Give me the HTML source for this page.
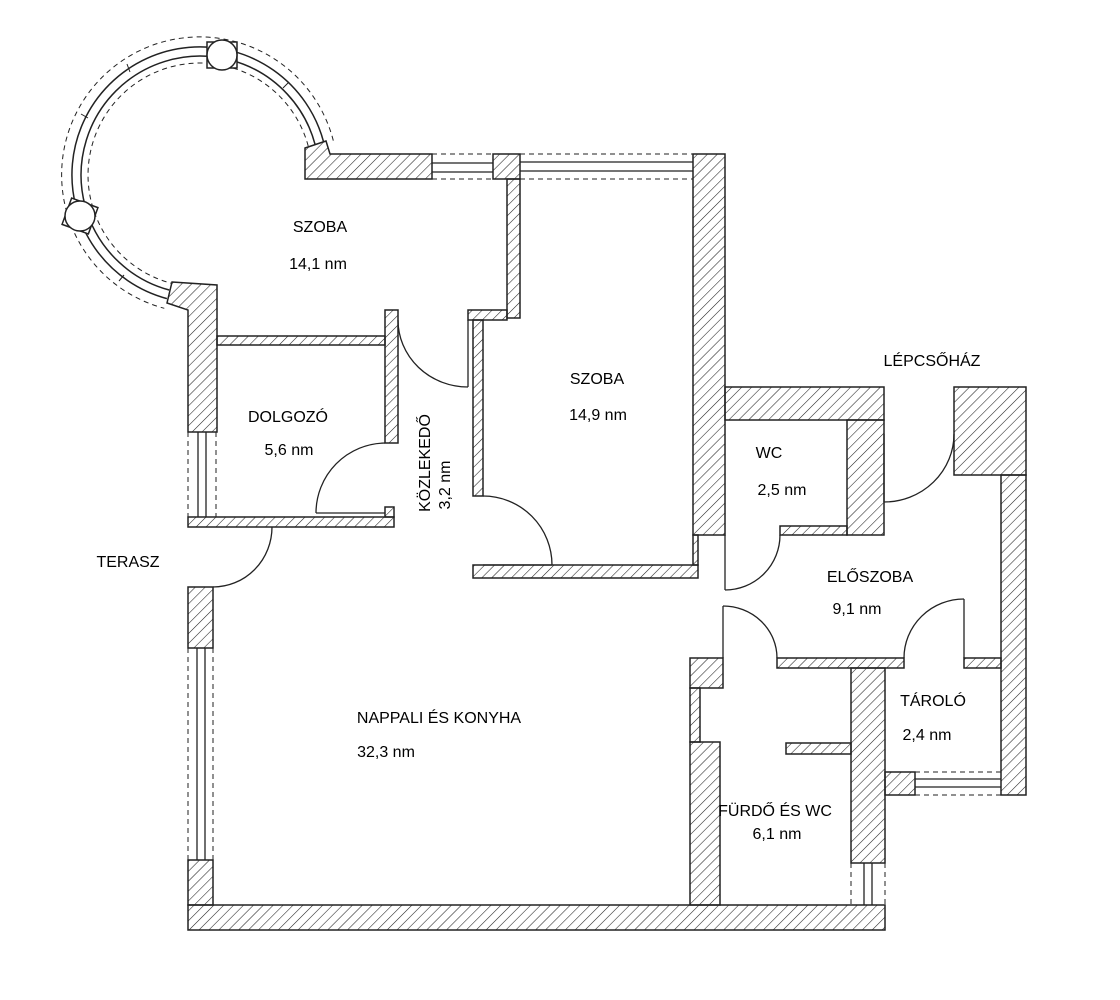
<!DOCTYPE html>
<html><head><meta charset="utf-8"><style>
html,body{margin:0;padding:0;background:#fff;}
svg{display:block;}
text{font-family:"Liberation Sans",sans-serif;font-size:16px;fill:#000;}
</style></head><body>
<svg width="1120" height="1000" viewBox="0 0 1120 1000" xmlns="http://www.w3.org/2000/svg">
<defs>
<pattern id="h" patternUnits="userSpaceOnUse" width="7" height="7" patternTransform="rotate(45)">
<line x1="0" y1="0" x2="0" y2="7" stroke="#222" stroke-width="1.1"/>
</pattern>
</defs>
<rect width="1120" height="1000" fill="#fff"/>

<!-- circular bay -->
<g fill="none" stroke="#222">
<path d="M 333.3 140.6 A 138 138 0 1 0 164.3 308.3" stroke-dasharray="5,4" stroke-width="1"/>
<path d="M 323.6 141.9 A 128 128 0 1 0 166.9 298.6" stroke-width="1.5"/>
<path d="M 315 144.2 A 119 119 0 1 0 169.2 290" stroke-width="1.5"/>
<path d="M 308.2 146 A 112 112 0 1 0 171 283.2" stroke-dasharray="5,4" stroke-width="1"/>
<line x1="130" y1="72" x2="127" y2="64" stroke-width="1"/>
<line x1="88" y1="118" x2="81" y2="114" stroke-width="1"/>
<line x1="283" y1="88" x2="289" y2="82" stroke-width="1"/>
<line x1="124" y1="275" x2="119" y2="281" stroke-width="1"/>
</g>
<g fill="#fff" stroke="#222" stroke-width="1.5">
<rect x="207" y="42" width="30" height="26"/>
<circle cx="222" cy="55" r="15"/>
<rect x="66" y="202" width="28" height="28" transform="rotate(20 80 216)"/>
<circle cx="80" cy="216" r="15"/>
</g>

<!-- windows -->
<g stroke="#222" fill="none">
<line x1="432" y1="163" x2="493" y2="163" stroke-width="1.3"/>
<line x1="432" y1="172" x2="493" y2="172" stroke-width="1.3"/>
<line x1="432" y1="154" x2="493" y2="154" stroke-dasharray="5,4"/>
<line x1="432" y1="179" x2="493" y2="179" stroke-dasharray="5,4"/>
<line x1="520" y1="162" x2="693" y2="162" stroke-width="1.3"/>
<line x1="520" y1="171" x2="693" y2="171" stroke-width="1.3"/>
<line x1="520" y1="154" x2="693" y2="154" stroke-dasharray="5,4"/>
<line x1="520" y1="179" x2="693" y2="179" stroke-dasharray="5,4"/>
<line x1="198" y1="432" x2="198" y2="517" stroke-width="1.3"/>
<line x1="206" y1="432" x2="206" y2="517" stroke-width="1.3"/>
<line x1="188" y1="432" x2="188" y2="517" stroke-dasharray="5,4"/>
<line x1="216" y1="432" x2="216" y2="517" stroke-dasharray="5,4"/>
<line x1="197" y1="648" x2="197" y2="860" stroke-width="1.3"/>
<line x1="205" y1="648" x2="205" y2="860" stroke-width="1.3"/>
<line x1="188" y1="648" x2="188" y2="860" stroke-dasharray="5,4"/>
<line x1="213" y1="648" x2="213" y2="860" stroke-dasharray="5,4"/>
<line x1="915" y1="779" x2="1001" y2="779" stroke-width="1.3"/>
<line x1="915" y1="787" x2="1001" y2="787" stroke-width="1.3"/>
<line x1="915" y1="772" x2="1001" y2="772" stroke-dasharray="5,4"/>
<line x1="915" y1="795" x2="1001" y2="795" stroke-dasharray="5,4"/>
<line x1="864" y1="863" x2="864" y2="905" stroke-width="1.3"/>
<line x1="872" y1="863" x2="872" y2="905" stroke-width="1.3"/>
<line x1="851" y1="863" x2="851" y2="905" stroke-dasharray="5,4"/>
<line x1="885" y1="863" x2="885" y2="905" stroke-dasharray="5,4"/>
</g>

<!-- walls -->
<g fill="url(#h)" stroke="#222" stroke-width="1.5">
<polygon points="305,148 326,141 330,154 432,154 432,179 305,179"/>
<rect x="493" y="154" width="27" height="25"/>
<rect x="507" y="179" width="13" height="139"/>
<rect x="468" y="310" width="39" height="10"/>
<rect x="473" y="320" width="10" height="176"/>
<polygon points="172,282 217,285 217,432 188,432 188,310 167,303"/>
<rect x="217" y="336" width="168" height="9"/>
<rect x="385" y="310" width="13" height="133"/>
<rect x="188" y="517" width="206" height="10"/>
<rect x="385" y="507" width="9" height="10"/>
<rect x="188" y="587" width="25" height="61"/>
<rect x="188" y="860" width="25" height="45"/>
<rect x="188" y="905" width="697" height="25"/>
<rect x="473" y="565" width="225" height="13"/>
<rect x="693" y="154" width="32" height="381"/>
<rect x="693" y="535" width="5" height="30"/>
<rect x="725" y="387" width="159" height="33"/>
<rect x="847" y="420" width="37" height="115"/>
<rect x="780" y="526" width="67" height="9"/>
<rect x="954" y="387" width="72" height="88"/>
<rect x="1001" y="475" width="25" height="320"/>
<rect x="777" y="658" width="127" height="10"/>
<rect x="964" y="658" width="37" height="10"/>
<rect x="690" y="658" width="33" height="30"/>
<rect x="690" y="688" width="10" height="54"/>
<rect x="690" y="742" width="30" height="163"/>
<rect x="851" y="668" width="34" height="195"/>
<rect x="786" y="743" width="65" height="11"/>
<rect x="885" y="772" width="30" height="23"/>
</g>

<!-- doors -->
<g fill="none" stroke="#222" stroke-width="1.3">
<path d="M 398 320 A 70 67 0 0 0 468 387"/>
<line x1="468" y1="320" x2="468" y2="387"/>
<path d="M 385 443 A 70 70 0 0 0 316 513"/>
<line x1="316" y1="513" x2="385" y2="513"/>
<path d="M 483 496 A 69 69 0 0 1 552 565"/>
<line x1="483" y1="565" x2="552" y2="565"/>
<path d="M 272 527 A 59 60 0 0 1 213 587"/>
<line x1="725" y1="535" x2="725" y2="590"/>
<path d="M 780 535 A 55 55 0 0 1 725 590"/>
<line x1="884" y1="434" x2="884" y2="502"/>
<path d="M 954 434 A 70 68 0 0 1 884 502"/>
<line x1="723" y1="606" x2="723" y2="658"/>
<path d="M 723 606 A 54 52 0 0 1 777 658"/>
<line x1="964" y1="599" x2="964" y2="658"/>
<path d="M 964 599 A 60 59 0 0 0 904 658"/>
</g>

<!-- labels -->
<g text-anchor="middle">
<text x="320" y="232">SZOBA</text>
<text x="318" y="269">14,1 nm</text>
<text x="597" y="384">SZOBA</text>
<text x="598" y="420">14,9 nm</text>
<text x="288" y="422">DOLGOZÓ</text>
<text x="289" y="455">5,6 nm</text>
<text transform="translate(430 463) rotate(-90)">KÖZLEKEDŐ</text>
<text transform="translate(450 485) rotate(-90)">3,2 nm</text>
<text x="932" y="366">LÉPCSŐHÁZ</text>
<text x="769" y="458">WC</text>
<text x="782" y="495">2,5 nm</text>
<text x="870" y="582">ELŐSZOBA</text>
<text x="857" y="614">9,1 nm</text>
<text x="128" y="567">TERASZ</text>
<text x="933" y="706">TÁROLÓ</text>
<text x="927" y="740">2,4 nm</text>
<text x="439" y="723">NAPPALI ÉS KONYHA</text>
<text x="386" y="757">32,3 nm</text>
<text x="775" y="816">FÜRDŐ ÉS WC</text>
<text x="777" y="839">6,1 nm</text>
</g>
</svg>
</body></html>
